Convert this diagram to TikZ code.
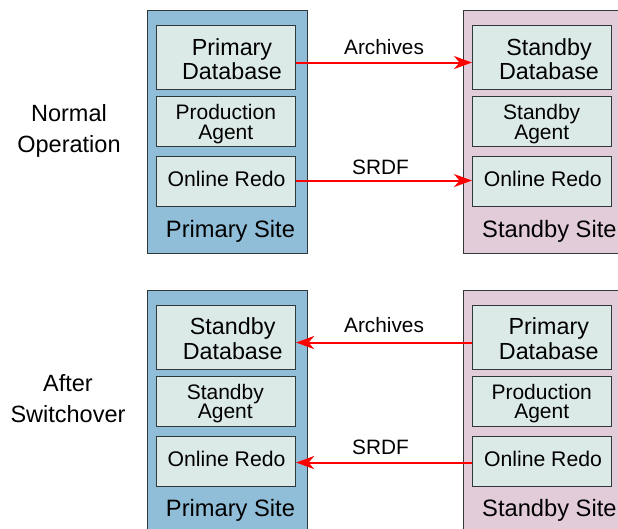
\documentclass[tikz,border=0pt]{standalone}
\usepackage{fontspec}
\setmainfont{Liberation Sans}
\usetikzlibrary{arrows.meta}
\definecolor{primsite}{HTML}{90BDD7}
\definecolor{stbysite}{HTML}{E3CCDA}
\definecolor{unitfill}{HTML}{DCEAE7}
\definecolor{edgegray}{HTML}{30383C}

\begin{document}
\begin{tikzpicture}[x=1pt,y=-1pt,
  site/.style={draw=edgegray, line width=1.4pt, minimum width=160pt,
    minimum height=243pt, inner sep=0pt, anchor=north west},
  unit/.style={draw=edgegray, line width=1.1pt, fill=unitfill,
    minimum width=139pt, inner sep=0pt, anchor=north west},
  dbtext/.style={inner sep=0pt, align=center, font=\fontsize{23.3}{24.5}\selectfont},
  agtext/.style={inner sep=0pt, align=center, font=\fontsize{21}{19.5}\selectfont},
  redotext/.style={inner sep=0pt, anchor=base, font=\fontsize{21.2}{24}\selectfont},
  sitetext/.style={inner sep=0pt, font=\fontsize{23.7}{26}\selectfont},
  modetext/.style={inner sep=0pt, align=center, font=\fontsize{23.5}{31}\selectfont},
  linktext/.style={inner sep=0pt, anchor=base, font=\fontsize{20.8}{24}\selectfont},
  link/.style={draw=red, line width=2pt,
    -{Stealth[length=18pt, width=13pt, inset=5.5pt]}}
]
\useasboundingbox (0,0) rectangle (618,529);
\clip (0,0) rectangle (618,529);

% ---------------- normal operation ----------------
\node[modetext] (modeA) at (69,131.2) {Normal\\Operation};

\node[site, fill=primsite] (psA) at (147,10) {};
\node[site, fill=stbysite] (ssA) at (463,10) {};

\node[unit, minimum height=64pt] (dbA1) at (156,25) {};
\node[unit, minimum height=50pt] (agA1) at (156,96) {};
\node[unit, minimum height=50pt] (rdA1) at (156,156) {};
\node[unit, minimum height=64pt] (dbA2) at (472,25) {};
\node[unit, minimum height=50pt] (agA2) at (472,96) {};
\node[unit, minimum height=50pt] (rdA2) at (472,156) {};

\node[dbtext] (tdbA1) at (232,59) {Primary\\Database};
\node[agtext] (tagA1) at (225.8,124) {Production\\Agent};
\node[redotext] (trdA1) at (226.5,186.7) {Online Redo};
\node[sitetext, anchor=base] (tpsA) at (230.5,237.3) {Primary Site};

\node[dbtext] (tdbA2) at (549,59) {Standby\\Database};
\node[agtext] (tagA2) at (541.7,124) {Standby\\Agent};
\node[redotext] (trdA2) at (542.8,186.4) {Online Redo};
\node[sitetext, anchor=base west] (tssA) at (482,237.3) {Standby Site};

\draw[link] ([yshift=-5pt]dbA1.east) -- ([yshift=-5pt]dbA2.west)
  node[linktext, pos=0.5, yshift=8pt] (arA) {Archives};
\draw[link] ([yshift=1pt]rdA1.east) -- ([yshift=1pt]rdA2.west)
  node[linktext, pos=0.48, yshift=6pt] (srA) {SRDF};

% ---------------- after switchover ----------------
\node[modetext] (modeB) at (68,398.8) {After\\Switchover};

\node[site, fill=primsite] (psB) at (147,290) {};
\node[site, fill=stbysite] (ssB) at (463,290) {};

\node[unit, minimum height=64pt] (dbB1) at (156,305) {};
\node[unit, minimum height=50pt] (agB1) at (156,376) {};
\node[unit, minimum height=50pt] (rdB1) at (156,436) {};
\node[unit, minimum height=64pt] (dbB2) at (472,305) {};
\node[unit, minimum height=50pt] (agB2) at (472,376) {};
\node[unit, minimum height=50pt] (rdB2) at (472,436) {};

\node[dbtext] (tdbB1) at (232.7,338.5) {Standby\\Database};
\node[agtext] (tagB1) at (225.3,403.5) {Standby\\Agent};
\node[redotext] (trdB1) at (226.5,466.2) {Online Redo};
\node[sitetext, anchor=base] (tpsB) at (230.5,516.8) {Primary Site};

\node[dbtext] (tdbB2) at (548.8,338.5) {Primary\\Database};
\node[agtext] (tagB2) at (541.7,403.5) {Production\\Agent};
\node[redotext] (trdB2) at (543,466.2) {Online Redo};
\node[sitetext, anchor=base west] (tssB) at (482,516.8) {Standby Site};

\draw[link] ([yshift=-5pt]dbB2.west) -- ([yshift=-5pt]dbB1.east)
  node[linktext, pos=0.5, yshift=10pt] (arB) {Archives};
\draw[link] ([yshift=-1pt]rdB2.west) -- ([yshift=-1pt]rdB1.east)
  node[linktext, pos=0.52, yshift=8pt] (srB) {SRDF};
\end{tikzpicture}
\end{document}
